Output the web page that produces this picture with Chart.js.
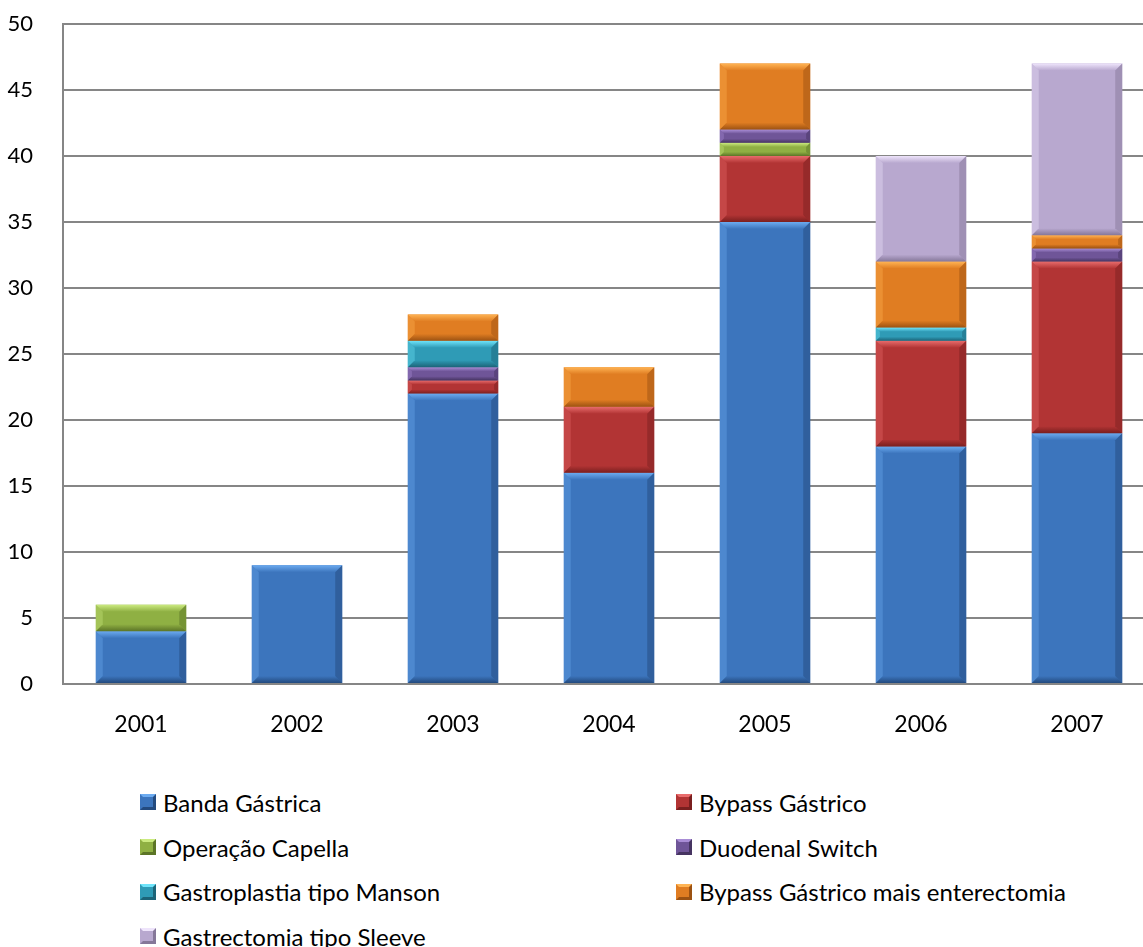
<!DOCTYPE html>
<html>
<head>
<meta charset="utf-8">
<script src="https://cdn.jsdelivr.net/npm/chart.js@4/dist/chart.umd.min.js"></script>
<style>
  html, body { margin: 0; padding: 0; background: #fff; overflow: hidden; }
  #wrap { position: absolute; left: 0; top: 0; width: 1155px; height: 760px; }
  #legend { position: absolute; left: 140px; top: 780px; width: 1000px;
            display: grid; grid-template-columns: 536px 460px; row-gap: 0;
            font-family: Lato, "Noto Sans", sans-serif; font-size: 24px; color: #000; }
  .item { height: 44.7px; display: flex; align-items: center; white-space: nowrap; }
  .box { width: 16px; height: 16px; box-sizing: border-box; border: 3px solid; margin-right: 7px; }
</style>
</head>
<body>
<div id="wrap"><canvas id="c"></canvas></div>
<div id="legend"></div>
<script>
// Procedures per year, stacked from the bottom in this order
const years = ['2001', '2002', '2003', '2004', '2005', '2006', '2007'];
const bandaGastrica       = [4, 9, 22, 16, 35, 18, 19];
const bypassGastrico      = [0, 0, 1, 5, 5, 8, 13];
const operacaoCapella     = [2, 0, 0, 0, 1, 0, 0];
const duodenalSwitch      = [0, 0, 1, 0, 1, 0, 1];
const gastroplastiaManson = [0, 0, 2, 0, 0, 1, 0];
const bypassEnterectomia  = [0, 0, 2, 3, 5, 5, 1];
const gastrectomiaSleeve  = [0, 0, 0, 0, 0, 8, 13];
const yTicks = [0, 5, 10, 15, 20, 25, 30, 35, 40, 45, 50];

const seriesNames = ['Banda Gástrica', 'Bypass Gástrico', 'Operação Capella', 'Duodenal Switch',
                     'Gastroplastia tipo Manson', 'Bypass Gástrico mais enterectomia', 'Gastrectomia tipo Sleeve'];
const seriesValues = [bandaGastrica, bypassGastrico, operacaoCapella, duodenalSwitch,
                      gastroplastiaManson, bypassEnterectomia, gastrectomiaSleeve];
const palette = [
  { base: '#3c75bd', light: '#6cabf0', dark: '#234a7e' },
  { base: '#b23434', light: '#e86c6c', dark: '#7a1f1f' },
  { base: '#8fb043', light: '#cbea80', dark: '#5c7527' },
  { base: '#6f5598', light: '#a98dd6', dark: '#463461' },
  { base: '#2f9bb6', light: '#6fe4fa', dark: '#1c6478' },
  { base: '#e07d22', light: '#ffb454', dark: '#9c5212' },
  { base: '#b8a8cf', light: '#eee4fb', dark: '#857799' }
];

const datasets = seriesNames.map((name, i) => ({
  label: name,
  data: seriesValues[i],
  backgroundColor: palette[i].base,
  borderWidth: 0,
  barPercentage: 0.58,
  categoryPercentage: 1.0
}));

// Bevelled edges on each stacked segment
const bevelPlugin = {
  id: 'bevel',
  afterDatasetsDraw(chart) {
    const ctx = chart.ctx;
    chart.data.datasets.forEach((ds, di) => {
      const meta = chart.getDatasetMeta(di);
      const col = palette[di];
      meta.data.forEach(bar => {
        const h = Math.abs(bar.base - bar.y);
        if (h < 0.5) return;
        const x0 = bar.x - bar.width / 2, x1 = bar.x + bar.width / 2;
        const y0 = Math.min(bar.y, bar.base), y1 = Math.max(bar.y, bar.base);
        const b = Math.min(7, h / 3.2);
        ctx.save();
        // top
        let g = ctx.createLinearGradient(0, y0, 0, y0 + b);
        g.addColorStop(0, col.light); g.addColorStop(1, col.base);
        ctx.fillStyle = g;
        ctx.beginPath(); ctx.moveTo(x0, y0); ctx.lineTo(x1, y0); ctx.lineTo(x1 - b, y0 + b); ctx.lineTo(x0 + b, y0 + b); ctx.closePath(); ctx.fill();
        // bottom
        g = ctx.createLinearGradient(0, y1 - b, 0, y1);
        g.addColorStop(0, col.base); g.addColorStop(1, col.dark);
        ctx.fillStyle = g;
        ctx.beginPath(); ctx.moveTo(x0, y1); ctx.lineTo(x1, y1); ctx.lineTo(x1 - b, y1 - b); ctx.lineTo(x0 + b, y1 - b); ctx.closePath(); ctx.fill();
        // left
        ctx.globalAlpha = 0.35; ctx.fillStyle = col.light;
        ctx.beginPath(); ctx.moveTo(x0, y0); ctx.lineTo(x0 + b, y0 + b); ctx.lineTo(x0 + b, y1 - b); ctx.lineTo(x0, y1); ctx.closePath(); ctx.fill();
        // right
        ctx.globalAlpha = 0.5; ctx.fillStyle = col.dark;
        ctx.beginPath(); ctx.moveTo(x1, y0); ctx.lineTo(x1 - b, y0 + b); ctx.lineTo(x1 - b, y1 - b); ctx.lineTo(x1, y1); ctx.closePath(); ctx.fill();
        ctx.restore();
      });
    });
  }
};

new Chart(document.getElementById('c'), {
  type: 'bar',
  data: { labels: years, datasets },
  plugins: [bevelPlugin],
  options: {
    responsive: true,
    maintainAspectRatio: false,
    animation: false,
    layout: { padding: { top: 24, right: 0, left: 0, bottom: 0 } },
    plugins: { legend: { display: false }, tooltip: { enabled: false } },
    scales: {
      x: {
        stacked: true,
        grid: { display: false, drawTicks: false },
        border: { display: true, color: '#868686', width: 2 },
        ticks: { color: '#000', padding: 27, font: { family: 'Lato, "Noto Sans", sans-serif', size: 23 } },
        afterFit(scale) { scale.height = 76; }
      },
      y: {
        stacked: true,
        min: 0, max: 50,
        afterBuildTicks(scale) { scale.ticks = yTicks.map(v => ({ value: v })); },
        grid: { color: '#868686', lineWidth: 2, drawTicks: false },
        border: { display: true, color: '#868686', width: 2 },
        ticks: { color: '#000', padding: 30, font: { family: 'Lato, "Noto Sans", sans-serif', size: 22 } },
        afterFit(scale) { scale.width = 63; scale.paddingTop = 0; scale.paddingBottom = 0; }
      }
    }
  }
});

// Legend in two columns
const legend = document.getElementById('legend');
seriesNames.forEach((name, i) => {
  const item = document.createElement('div');
  item.className = 'item';
  const box = document.createElement('span');
  box.className = 'box';
  box.style.background = palette[i].base;
  box.style.borderTopColor = palette[i].light;
  box.style.borderLeftColor = palette[i].base;
  box.style.borderRightColor = palette[i].dark;
  box.style.borderBottomColor = palette[i].dark;
  const txt = document.createElement('span');
  txt.textContent = name;
  item.appendChild(box); item.appendChild(txt);
  legend.appendChild(item);
});
</script>
</body>
</html>
